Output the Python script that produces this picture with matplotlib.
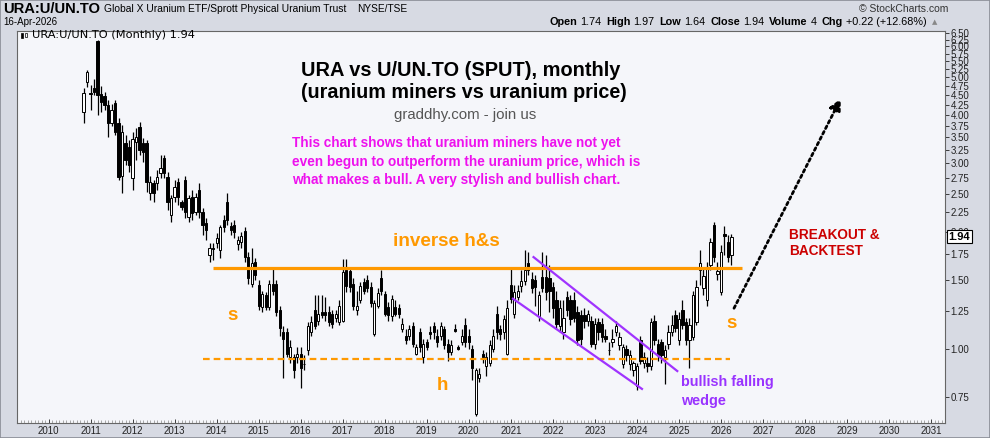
import numpy as np
import pandas as pd
import matplotlib
matplotlib.use('Agg')
import matplotlib.pyplot as plt
import matplotlib.transforms as mtransforms
from matplotlib.patches import Rectangle
from matplotlib.ticker import NullLocator

# Monthly candles of the ratio URA : U.UN (first bar Nov 2010)
start_month = '2010-11'
opens = [4.07, 4.86, 4.55, 4.69, 6.20, 4.52, 4.47, 4.24, 3.81, 4.29,
         3.81, 2.78, 3.38, 3.30, 2.75, 3.40, 3.72, 3.38, 3.38, 2.51,
         2.67, 2.67, 2.83, 3.10, 2.77, 2.21, 2.46, 2.68, 2.38, 2.72,
         2.18, 2.46, 2.25, 2.56, 2.25, 2.11, 1.74, 1.81, 1.87, 1.79,
         2.14, 2.38, 2.07, 2.08, 1.86, 1.88, 2.01, 1.72, 1.47, 1.67,
         1.46, 1.28, 1.37, 1.28, 1.47, 1.47, 1.26, 1.10, 1.10, 0.95,
         0.95, 0.95, 0.97, 0.91, 0.99, 1.10, 1.26, 1.18, 1.24, 1.24,
         1.24, 1.23, 1.20, 1.17, 1.18, 1.59, 1.58, 1.47, 1.26, 1.33,
         1.48, 1.50, 1.44, 1.09, 1.29, 1.52, 1.38, 1.28, 1.21, 1.28,
         1.27, 1.12, 1.08, 1.08, 1.14, 0.97, 1.10, 0.95, 1.04, 1.10,
         1.14, 1.08, 1.08, 1.12, 1.03, 0.98, 1.12, 1.01, 1.04, 1.15,
         1.08, 1.00, 0.68, 0.84, 0.97, 0.90, 0.92, 1.00, 1.23, 1.12,
         1.10, 0.97, 1.46, 1.23, 1.36, 1.45, 1.49, 1.66, 1.51, 1.50,
         1.21, 1.53, 1.53, 1.52, 1.44, 1.33, 1.14, 1.10, 1.36, 1.33,
         1.33, 1.24, 1.22, 1.22, 1.18, 1.18, 1.03, 1.17, 1.16, 1.08,
         0.99, 1.04, 1.10, 1.02, 0.91, 1.00, 0.91, 0.88, 0.80, 1.05,
         0.92, 0.92, 0.90, 1.18, 1.03, 1.04, 0.95, 1.03, 1.10, 1.22,
         1.05, 1.26, 1.17, 1.05, 1.07, 1.17, 1.59, 1.43, 1.33, 1.64,
         2.08, 1.56, 1.40, 1.97, 1.88, 1.74]
highs = [4.69, 5.22, 4.77, 4.95, 6.23, 4.74, 4.58, 4.37, 4.26, 4.37,
         3.92, 3.76, 3.55, 3.44, 3.61, 3.70, 3.83, 3.49, 3.44, 2.78,
         2.72, 2.88, 3.15, 3.15, 2.85, 2.49, 2.72, 2.75, 2.41, 2.78,
         2.49, 2.56, 2.51, 2.67, 2.30, 2.17, 1.87, 1.87, 1.98, 2.08,
         2.21, 2.51, 2.12, 2.14, 1.95, 2.00, 2.06, 1.77, 1.81, 1.71,
         1.50, 1.41, 1.40, 1.50, 1.61, 1.50, 1.29, 1.14, 1.13, 1.05,
         0.97, 1.01, 1.01, 0.96, 1.17, 1.21, 1.37, 1.37, 1.37, 1.36,
         1.29, 1.26, 1.26, 1.33, 1.70, 1.70, 1.61, 1.52, 1.41, 1.48,
         1.52, 1.55, 1.48, 1.33, 1.43, 1.59, 1.41, 1.32, 1.37, 1.33,
         1.30, 1.20, 1.12, 1.15, 1.17, 1.03, 1.13, 1.06, 1.06, 1.14,
         1.17, 1.12, 1.17, 1.14, 1.06, 1.05, 1.16, 1.02, 1.12, 1.20,
         1.12, 1.02, 0.89, 0.89, 0.99, 0.98, 1.05, 1.12, 1.29, 1.15,
         1.22, 1.33, 1.61, 1.46, 1.46, 1.59, 1.79, 1.77, 1.57, 1.55,
         1.41, 1.77, 1.74, 1.64, 1.48, 1.41, 1.33, 1.33, 1.41, 1.37,
         1.40, 1.29, 1.26, 1.27, 1.26, 1.21, 1.20, 1.20, 1.20, 1.12,
         1.04, 1.12, 1.18, 1.10, 1.03, 1.02, 0.99, 0.93, 0.92, 1.08,
         0.98, 0.95, 1.20, 1.22, 1.06, 1.06, 1.02, 1.15, 1.22, 1.26,
         1.24, 1.33, 1.20, 1.20, 1.41, 1.50, 1.79, 1.61, 1.67, 1.93,
         2.12, 1.67, 1.85, 2.07, 1.96, 1.97]
lows = [3.81, 4.72, 4.11, 4.50, 3.99, 4.07, 4.11, 3.51, 3.74, 3.55,
        2.72, 2.51, 2.97, 2.85, 2.56, 3.06, 3.15, 3.02, 2.53, 2.41,
        2.38, 2.56, 2.75, 2.75, 2.27, 2.12, 2.38, 2.34, 2.27, 2.17,
        2.12, 2.14, 2.21, 2.17, 1.96, 1.90, 1.67, 1.69, 1.81, 1.71,
        2.00, 2.08, 1.96, 1.93, 1.79, 1.81, 1.67, 1.47, 1.44, 1.50,
        1.26, 1.24, 1.26, 1.26, 1.37, 1.21, 1.08, 0.84, 0.95, 0.92,
        0.84, 0.92, 0.79, 0.88, 0.96, 1.08, 1.12, 1.15, 1.20, 1.18,
        1.14, 1.13, 1.17, 1.15, 1.17, 1.40, 1.40, 1.26, 1.22, 1.31,
        1.38, 1.40, 1.28, 1.08, 1.27, 1.37, 1.21, 1.18, 1.18, 1.21,
        1.20, 1.10, 1.03, 1.05, 1.01, 0.96, 0.98, 0.92, 0.99, 1.06,
        1.06, 1.01, 1.05, 1.00, 0.93, 0.96, 1.10, 0.99, 1.02, 1.01,
        1.00, 0.83, 0.67, 0.82, 0.92, 0.85, 0.90, 0.98, 1.06, 1.05,
        1.06, 0.96, 1.31, 1.20, 1.33, 1.40, 1.46, 1.55, 1.39, 1.29,
        1.18, 1.40, 1.33, 1.24, 1.20, 1.12, 1.10, 1.06, 1.21, 1.15,
        1.17, 1.02, 1.02, 1.13, 1.14, 1.01, 1.00, 1.05, 1.04, 1.04,
        0.96, 1.01, 1.08, 0.99, 0.89, 0.93, 0.88, 0.85, 0.78, 0.91,
        0.89, 0.87, 0.88, 1.02, 0.93, 0.92, 0.81, 1.00, 1.08, 1.10,
        1.02, 1.12, 1.02, 0.89, 1.05, 1.15, 1.46, 1.37, 1.29, 1.59,
        1.67, 1.50, 1.37, 1.74, 1.67, 1.64]
closes = [4.55, 5.16, 4.52, 4.58, 4.50, 4.31, 4.24, 3.81, 4.11, 3.61,
          2.77, 3.61, 3.06, 2.97, 3.46, 3.51, 3.25, 3.21, 2.68, 2.68,
          2.51, 2.77, 2.92, 2.83, 2.38, 2.44, 2.61, 2.46, 2.31, 2.25,
          2.44, 2.23, 2.46, 2.25, 2.08, 2.02, 1.81, 1.80, 1.93, 2.06,
          2.06, 2.14, 2.02, 2.00, 1.90, 1.95, 1.72, 1.52, 1.66, 1.55,
          1.29, 1.38, 1.28, 1.47, 1.41, 1.24, 1.13, 1.06, 0.97, 1.01,
          0.88, 0.97, 0.89, 0.91, 1.14, 1.17, 1.14, 1.23, 1.22, 1.22,
          1.17, 1.16, 1.23, 1.29, 1.57, 1.45, 1.44, 1.29, 1.29, 1.45,
          1.41, 1.43, 1.31, 1.31, 1.39, 1.41, 1.23, 1.22, 1.34, 1.23,
          1.23, 1.16, 1.05, 1.12, 1.03, 1.01, 1.01, 1.03, 1.01, 1.09,
          1.10, 1.04, 1.14, 1.02, 0.98, 1.02, 1.11, 1.00, 1.08, 1.04,
          1.04, 0.89, 0.88, 0.86, 0.95, 0.95, 1.02, 1.08, 1.10, 1.09,
          1.19, 1.27, 1.34, 1.40, 1.41, 1.49, 1.59, 1.59, 1.43, 1.44,
          1.37, 1.43, 1.40, 1.41, 1.27, 1.16, 1.27, 1.20, 1.26, 1.19,
          1.20, 1.05, 1.06, 1.18, 1.23, 1.03, 1.16, 1.10, 1.07, 1.06,
          0.99, 1.06, 1.14, 1.07, 1.01, 0.96, 0.96, 0.92, 0.90, 0.93,
          0.95, 0.90, 1.17, 1.05, 0.96, 0.96, 0.99, 1.10, 1.15, 1.13,
          1.19, 1.15, 1.05, 1.15, 1.37, 1.44, 1.66, 1.54, 1.60, 1.88,
          1.72, 1.58, 1.77, 1.95, 1.72, 1.94]

y_ticks = [0.75, 1.00, 1.25, 1.50, 1.75, 2.00, 2.25, 2.50, 2.75, 3.00,
           3.25, 3.50, 3.75, 4.00, 4.25, 4.50, 4.75, 5.00, 5.25, 5.50,
           5.75, 6.00, 6.25, 6.50]
years = list(range(2010, 2032))

# hand drawn annotations (decimal year, ratio value)
resistance = 1.61
resistance_span = (2013.92, 2026.50)
support = 0.94
support_span = (2013.68, 2026.22)
wedge_upper = ([2021.54, 2024.96], [1.72, 0.875])
wedge_lower = ([2021.05, 2024.12], [1.344, 0.787])
arrow_from = (2026.31, 1.27)
arrow_to = (2028.85, 4.40)

W, H = 990, 438


def fx(x):
    return x / W


def fy(y):
    return 1 - y / H


plt.rcParams['font.family'] = ['Liberation Sans', 'DejaVu Sans']

fig = plt.figure(figsize=(9.9, 4.38), dpi=100, facecolor='#d7dae3')
ax = fig.add_axes([fx(17), fy(423), (945 - 17) / W, (423 - 31) / H])
ax.set_facecolor('#f5f6fa')
ax.set_yscale('log')
ax.set_ylim(0.643, 6.574)
ax.set_xlim(2009.2555, 2031.33)

dates = pd.date_range(start_month, periods=len(closes), freq='MS')
xs = dates.year + (dates.month - 1) / 12.0
bw = 0.054

for x, o, h, l, c in zip(xs, opens, highs, lows, closes):
    ax.vlines(x, l, h, color='black', lw=0.9, zorder=2)
    up = c >= o
    ax.add_patch(Rectangle((x - bw / 2, min(o, c)), bw, abs(c - o),
                           facecolor='white' if up else 'black',
                           edgecolor='black', lw=0.7, zorder=3))

# axes styling
ax.yaxis.tick_right()
ax.set_yticks(y_ticks)
ax.set_yticklabels([f'{v:.2f}' for v in y_ticks])
ax.yaxis.set_minor_locator(NullLocator())
ax.tick_params(axis='y', labelsize=7, length=3, width=0.6, pad=1, colors='#222')
ax.set_xticks(years)
ax.set_xticklabels([str(y) for y in years])
ax.set_xticks(np.arange(2009.25, 2031.33, 1 / 12.0), minor=True)
ax.tick_params(axis='x', which='major', labelsize=7, length=3, width=0.6,
               direction='in', pad=2.5, colors='#222')
ax.tick_params(axis='x', which='minor', length=2, width=0.5, direction='in',
               colors='#888')
for sp in ax.spines.values():
    sp.set_color('#666')
    sp.set_linewidth(0.8)

# pattern lines
ax.hlines(resistance, *resistance_span, color='#ff9900', lw=2.3, zorder=4)
ax.hlines(support, *support_span, color='#ff9900', lw=1.6,
          linestyles=(0, (3, 1.8)), zorder=4)
ax.plot(*wedge_upper, color='#a033ff', lw=1.6, zorder=4)
ax.plot(*wedge_lower, color='#a033ff', lw=1.6, zorder=4)
ax.annotate('', xy=arrow_to, xytext=arrow_from,
            arrowprops=dict(arrowstyle='-|>,head_length=0.7,head_width=0.35',
                            color='black', lw=2, linestyle=(0, (1, 1.2)),
                            shrinkA=0, shrinkB=0), zorder=4)

# last value marker
blend = mtransforms.blended_transform_factory(ax.transAxes, ax.transData)
ax.text(1.004, closes[-1], f'{closes[-1]:.2f}', transform=blend, ha='left',
        va='center', fontsize=8, fontweight='bold', clip_on=False, zorder=10,
        bbox=dict(boxstyle='square,pad=0.12', fc='white', ec='black', lw=0.8))

# chart annotations
orange = '#ff9900'
fig.text(fx(461), fy(70), 'URA vs U/UN.TO (SPUT), monthly', ha='center',
         va='center', fontsize=14.4, fontweight='bold')
fig.text(fx(464), fy(92), '(uranium miners vs uranium price)', ha='center',
         va='center', fontsize=14.2, fontweight='bold')
fig.text(fx(465), fy(115), 'graddhy.com - join us', ha='center', va='center',
         fontsize=10.8, color='#555555')
magenta_lines = ['This chart shows that uranium miners have not yet',
                 'even begun to outperform the uranium price, which is',
                 'what makes a bull. A very stylish and bullish chart.']
for i, line in enumerate(magenta_lines):
    fig.text(fx(292), fy(143 + 18.7 * i), line, ha='left', va='center',
             fontsize=9.8, fontweight='bold', color='#ee11ee')
fig.text(fx(446), fy(241), 'inverse h&s', ha='center', va='center',
         fontsize=13.6, fontweight='bold', color=orange)
for (px, py, s) in [(233, 315, 's'), (442, 385, 'h'), (732, 324, 's')]:
    fig.text(fx(px), fy(py), s, ha='center', va='center', fontsize=13.5,
             fontweight='bold', color=orange)
fig.text(fx(681), fy(382), 'bullish falling', ha='left', va='center',
         fontsize=10.4, fontweight='bold', color='#9933ff')
fig.text(fx(681), fy(401), 'wedge', ha='left', va='center',
         fontsize=10.4, fontweight='bold', color='#9933ff')
fig.text(fx(789), fy(235), 'BREAKOUT &', ha='left', va='center',
         fontsize=9.8, fontweight='bold', color='#cc0000')
fig.text(fx(789), fy(251), 'BACKTEST', ha='left', va='center',
         fontsize=9.8, fontweight='bold', color='#cc0000')

# header
fig.text(fx(3), fy(9), 'URA:U/UN.TO', ha='left', va='center', fontsize=10.6,
         fontweight='bold')
fig.text(fx(104), fy(9), 'Global X Uranium ETF/Sprott Physical Uranium Trust',
         ha='left', va='center', fontsize=7.4)
fig.text(fx(357), fy(9), 'NYSE/TSE', ha='left', va='center', fontsize=7.3)
fig.text(fx(3), fy(22), '16-Apr-2026', ha='left', va='center', fontsize=7)
fig.text(fx(948), fy(9), '\u00a9 StockCharts.com', ha='right', va='center',
         fontsize=7.5, color='#333')
fig.text(fx(32), fy(35), 'URA:U/UN.TO (Monthly) 1.94', ha='left', va='center',
         fontsize=8.2, family='DejaVu Sans')
fig.add_artist(Rectangle((fx(21), fy(38)), 2 / W, 5 / H, transform=fig.transFigure,
                         fc='black', ec='black', lw=0.5))
fig.add_artist(Rectangle((fx(25), fy(37)), 2 / W, 4 / H, transform=fig.transFigure,
                         fc='none', ec='black', lw=0.5))

pieces = [('Open', 'bold'), ('1.74', 'normal'), ('High', 'bold'),
          ('1.97', 'normal'), ('Low', 'bold'), ('1.64', 'normal'),
          ('Close', 'bold'), ('1.94', 'normal'), ('Volume', 'bold'),
          ('4', 'normal'), ('Chg', 'bold'), ('+0.22 (+12.68%)', 'normal')]
fig.canvas.draw()
renderer = fig.canvas.get_renderer()
xpos = 549
for i, (s, w) in enumerate(pieces):
    t = fig.text(fx(xpos), fy(22), s, ha='left', va='center', fontsize=7.85,
                 fontweight=w)
    bb = t.get_window_extent(renderer=renderer)
    xpos += bb.width + (3 if w == 'bold' else 5)
fig.text(fx(xpos), fy(22), '\u25b2', ha='left', va='center', fontsize=5,
         color='#888', family='DejaVu Sans')

fig.add_artist(Rectangle((0, 0), 1, 1, transform=fig.transFigure, fill=False,
                         ec='#8a8d96', lw=1.2))

fig.savefig('out.png', dpi=100, facecolor=fig.get_facecolor())
